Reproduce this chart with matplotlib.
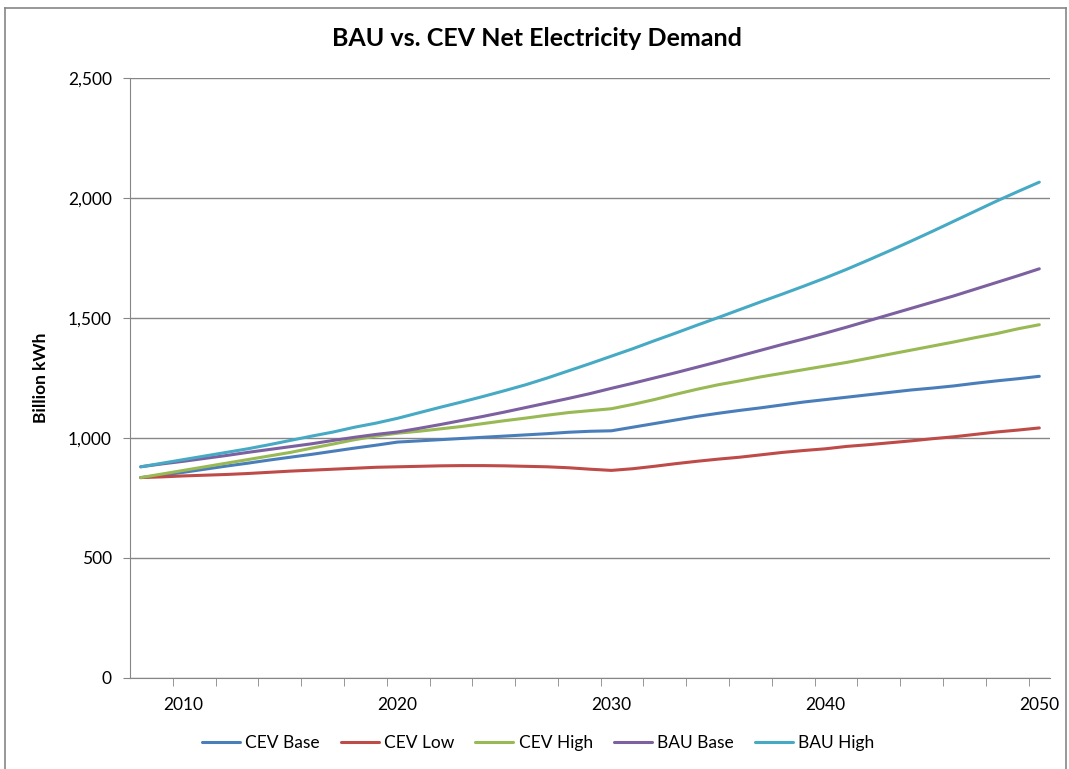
import matplotlib.pyplot as plt
from matplotlib.lines import Line2D
import numpy as np

years = list(range(2008, 2051))

cev_base = [835, 845, 857, 870, 883, 895, 908, 920, 932, 945,
            958, 970, 983, 988, 993, 998, 1003, 1008, 1013, 1018,
            1024, 1028, 1030, 1045, 1060, 1075, 1090, 1103, 1115, 1126,
            1138, 1150, 1160, 1170, 1180, 1190, 1200, 1208, 1217, 1228,
            1238, 1247, 1257]
cev_low = [835, 838, 842, 845, 848, 852, 857, 862, 866, 870,
           874, 878, 880, 882, 884, 885, 885, 884, 882, 880,
           876, 870, 865, 872, 882, 893, 903, 912, 920, 930,
           940, 948, 955, 965, 972, 980, 988, 997, 1005, 1015,
           1025, 1033, 1042]
cev_high = [835, 850, 865, 880, 895, 910, 925, 940, 958, 975,
            993, 1008, 1020, 1028, 1038, 1048, 1060, 1072, 1083, 1095,
            1106, 1114, 1122, 1140, 1160, 1182, 1203, 1222, 1238, 1255,
            1270, 1285, 1300, 1315, 1332, 1349, 1366, 1383, 1400, 1418,
            1435, 1455, 1472]
bau_base = [880, 892, 903, 915, 927, 940, 952, 964, 976, 990,
            1003, 1015, 1025, 1040, 1056, 1073, 1090, 1108, 1127, 1146,
            1165, 1185, 1207, 1228, 1250, 1272, 1295, 1318, 1342, 1366,
            1390, 1413, 1437, 1462, 1488, 1514, 1540, 1566, 1592, 1620,
            1648, 1676, 1705]
bau_high = [880, 895, 910, 925, 940, 955, 972, 990, 1008, 1025,
            1045, 1062, 1082, 1105, 1128, 1150, 1173, 1197, 1222, 1250,
            1280, 1310, 1341, 1372, 1405, 1437, 1470, 1502, 1535, 1568,
            1600, 1633, 1667, 1703, 1741, 1780, 1820, 1861, 1903, 1945,
            1987, 2027, 2066]

series = [("CEV Base", cev_base, "#4a7ebb"),
          ("CEV Low", cev_low, "#be4b48"),
          ("CEV High", cev_high, "#98b954"),
          ("BAU Base", bau_base, "#7d60a0"),
          ("BAU High", bau_high, "#46aac5")]

plt.rcParams['font.family'] = ['Lato', 'DejaVu Sans']

fig = plt.figure(figsize=(10.69, 7.69), dpi=100)
ax = fig.add_axes([130/1069, 91/769, 920/1069, 600/769])

for name, vals, col in series:
    ax.plot(years, vals, color=col, lw=2.2, label=name, solid_capstyle='round')

ax.set_xlim(2007.5, 2050.5)
ax.set_ylim(0, 2500)
ax.set_yticks(np.arange(0, 2501, 500))
ax.set_yticklabels([f"{v:,}" for v in range(0, 2501, 500)], fontsize=12.5)
ax.grid(axis='y', color='#868686', lw=1)
ax.set_axisbelow(True)

ax.set_xticks([2010, 2020, 2030, 2040, 2050])
ax.set_xticklabels(["2010", "2020", "2030", "2040", "2050"], fontsize=12.5)
ax.set_xticks(np.arange(2009.5, 2050, 2), minor=True)
ax.tick_params(axis='x', which='major', length=0, pad=14)
ax.tick_params(axis='x', which='minor', length=6, color='#868686')
ax.tick_params(axis='y', length=5, color='#868686', pad=8)

for s in ['top', 'right']:
    ax.spines[s].set_visible(False)
for s in ['left', 'bottom']:
    ax.spines[s].set_color('#868686')

ax.set_ylabel("Billion kWh", fontsize=12.5, fontweight='bold', labelpad=14)
fig.text(537/1069, 1 - 38/769, "BAU vs. CEV Net Electricity Demand",
         ha='center', va='center', fontsize=18, fontweight='bold')

fig.legend(*ax.get_legend_handles_labels(), loc='center', ncol=5,
           bbox_to_anchor=(538/1069, 1 - 743/769), frameon=False,
           fontsize=12.5, handlelength=2.2, handletextpad=0.3, columnspacing=1.2)

# outer chart border
fig.add_artist(Line2D([5/1069, 5/1069], [0, 1 - 8/769], color='#868686', lw=1.2))
fig.add_artist(Line2D([5/1069, 1066/1069], [1 - 8/769, 1 - 8/769], color='#868686', lw=1.2))
fig.add_artist(Line2D([1066/1069, 1066/1069], [0, 1 - 8/769], color='#868686', lw=1.2))

fig.savefig("out.png", dpi=100)
